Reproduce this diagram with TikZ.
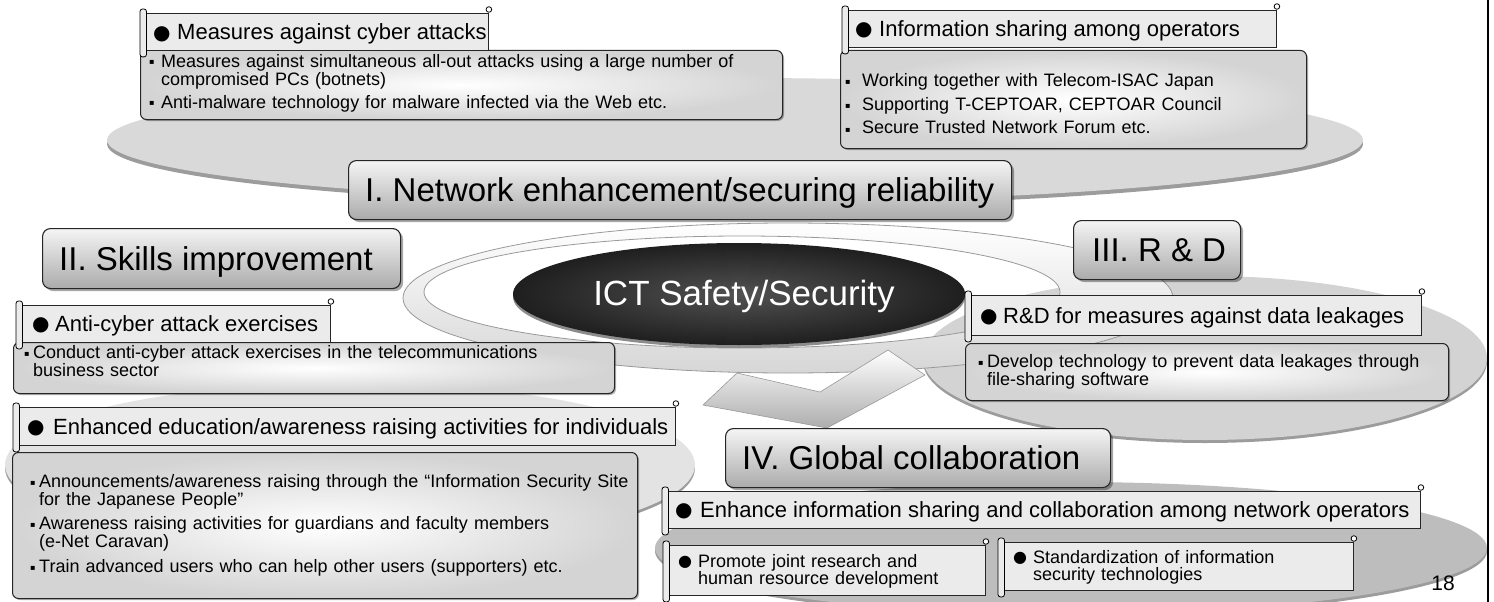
\documentclass[tikz,border=0pt]{standalone}
\usepackage{fontspec}
\setmainfont{Liberation Sans}
\newfontfamily\dvsans{DejaVu Sans}
\usetikzlibrary{shadows}

\definecolor{topdisc}{HTML}{D9D9D9}
\definecolor{rdisc}{HTML}{D3D3D3}
\definecolor{ldisc}{HTML}{E3E3E3}
\definecolor{gdisc}{HTML}{BDBDBD}
\definecolor{rim}{HTML}{9C9C9C}
\definecolor{headfill}{HTML}{EBEBEB}

% bullets and list items
\newlength\bulw
\newcommand\sqb{\raisebox{2pt}{\dvsans\fontsize{8}{8}\selectfont ▪}}
\newcommand\itm[1]{\noindent\hangindent=\bulw\hangafter=1\makebox[\bulw][l]{\sqb}#1\par}
\newcommand\hb[1][24pt]{\makebox[#1][l]{\raisebox{0.6pt}{\dvsans\fontsize{20}{20}\selectfont ●}}}
\newcommand\hbs{\makebox[20pt][l]{\raisebox{0.4pt}{\dvsans\fontsize{16}{16}\selectfont ●}}}

% rolled edge on the left and curl at the top right of a label
\newcommand\curl[1]{%
  \draw[line width=0.8pt, fill=headfill, rounded corners=2.5pt]
    ([xshift=-5pt,yshift=4pt]#1.north west) rectangle ([xshift=1.5pt,yshift=-6pt]#1.south west);
  \draw[line width=0.8pt, fill=white] ([yshift=3.5pt]#1.north east) circle (2.8pt);
}

\begin{document}
\begin{tikzpicture}[x=1pt,y=-1pt,
  titlebox/.style={draw=black!85, line width=1.1pt, rounded corners=8pt,
    top color=black!4, bottom color=black!33, inner sep=0pt,
    drop shadow={shadow xshift=2.5pt, shadow yshift=-2.5pt, opacity=0.35, fill=black}},
  bodybox/.style={draw=black!85, line width=1pt, rounded corners=6pt,
    inner color=white, outer color=black!17, inner sep=0pt,
    drop shadow={shadow xshift=1.5pt, shadow yshift=-1.5pt, opacity=0.3, fill=black}},
  headbox/.style={draw=black!85, line width=0.9pt, fill=headfill, inner sep=0pt},
  titletext/.style={font=\fontsize{33}{36}\selectfont, inner sep=0pt, anchor=base west},
  headtext/.style={font=\fontsize{22}{24}\selectfont, inner sep=0pt, anchor=base west},
  bodytext/.style={font=\fontsize{18}{18}\selectfont\setlength\parskip{5pt},
    inner sep=0pt, anchor=base west, text width=720pt, align=left},
]
\useasboundingbox (0,0) rectangle (1494,602);

% discs
\fill[rim] (735,144) ellipse [x radius=628pt, y radius=62pt];
\fill[topdisc] (735,140) ellipse [x radius=628pt, y radius=62pt];
\fill[rim] (350,468) ellipse [x radius=345pt, y radius=82pt];
\fill[ldisc] (350,465) ellipse [x radius=345pt, y radius=82pt];
\fill[rim] (1205,361) ellipse [x radius=282pt, y radius=82pt];
\fill[rdisc] (1205,358) ellipse [x radius=282pt, y radius=82pt];
\fill[rim] (1071,551) ellipse [x radius=416pt, y radius=66pt];
\fill[gdisc] (1071,548) ellipse [x radius=416pt, y radius=66pt];

% white ring around the core
\path[even odd rule, top color=white, bottom color=black!16, draw=black!40, line width=0.8pt]
  (788,298) ellipse [x radius=385pt, y radius=75pt]
  (742,292) ellipse [x radius=318pt, y radius=56pt];

% core
\fill[black!45] (739,297) ellipse [x radius=226pt, y radius=51pt];
\path[inner color=black!68, outer color=black!88] (739,294) ellipse [x radius=226pt, y radius=51pt];
\node[font=\fontsize{35}{35}\selectfont, text=white, anchor=base, inner sep=0pt] (ict) at (744,305) {ICT Safety/Security};

% arrow head
\path[draw=black!40, line width=0.6pt, top color=white, bottom color=black!32]
  (703,405) -- (737,373) -- (820,392) -- (888,350) -- (925,375) -- (827,428) -- cycle;

% I. cyber attacks
\node[bodybox, minimum width=642pt, minimum height=69pt, anchor=north west] (bodyA) at (140,50) {};
\node[headbox, minimum width=343pt, minimum height=37pt, anchor=north west] (headA) at (145,13) {};
\curl{headA}
\node[headtext] (headAtext) at (153,40) {\hb Measures against cyber attacks};
\node[bodytext] (bodyAtext) at (149,67) {\setlength\bulw{12pt}%
  \itm{Measures against simultaneous all-out attacks using a large number of\newline compromised PCs (botnets)}%
  \itm{Anti-malware technology for malware infected via the Web etc.}};

% I. information sharing
\node[bodybox, minimum width=466pt, minimum height=98pt, anchor=north west] (bodyB) at (840,50) {};
\node[headbox, minimum width=429pt, minimum height=37pt, anchor=north west] (headB) at (847,10) {};
\curl{headB}
\node[headtext] (headBtext) at (855,36.5) {\hb Information sharing among operators};
\node[bodytext] (bodyBtext) at (845,87) {\setlength\bulw{17pt}\setlength\parskip{5.5pt}%
  \itm{Working together with Telecom-ISAC Japan}%
  \itm{Supporting T-CEPTOAR, CEPTOAR Council}%
  \itm{Secure Trusted Network Forum etc.}};

% headings
\node[titlebox, minimum width=663pt, minimum height=59pt, anchor=north west] (netbox) at (348,160) {};
\node[titletext] (nettext) at (365,201) {I. Network enhancement/securing reliability};
\node[titlebox, minimum width=358pt, minimum height=60pt, anchor=north west] (skillbox) at (42,228) {};
\node[titletext] (skilltext) at (59,270) {II. Skills improvement};
\node[titlebox, minimum width=167pt, minimum height=59pt, anchor=north west] (rdbox) at (1073,220) {};
\node[titletext] (rdtext) at (1092,261) {III. R \& D};

% II. exercises
\node[bodybox, minimum width=601pt, minimum height=51pt, anchor=north west] (bodyC) at (13,342) {};
\node[headbox, minimum width=309pt, minimum height=37pt, anchor=north west] (headC) at (21,305) {};
\curl{headC}
\node[headtext] (headCtext) at (32,331) {\hb[23pt]Anti-cyber attack exercises};
\node[bodytext] (bodyCtext) at (24,358) {\setlength\bulw{9pt}%
  \itm{Conduct anti-cyber attack exercises in the telecommunications\newline business sector}};

% II. education
\node[bodybox, minimum width=625pt, minimum height=146pt, anchor=north west] (bodyD) at (12,452) {};
\node[headbox, minimum width=657pt, minimum height=38pt, anchor=north west] (headD) at (18,407) {};
\curl{headD}
\node[headtext] (headDtext) at (27,434) {\hb[26pt]Enhanced education/awareness raising activities for individuals};
\node[bodytext] (bodyDtext) at (30,487) {\setlength\bulw{9pt}\setlength\parskip{6.5pt}%
  \itm{Announcements/awareness raising through the “Information Security Site\newline for the Japanese People”}%
  \itm{Awareness raising activities for guardians and faculty members\newline (e-Net Caravan)}%
  \itm{Train advanced users who can help other users (supporters) etc.}};

% III. data leakages
\node[bodybox, minimum width=483pt, minimum height=57pt, anchor=north west] (bodyE) at (965,343) {};
\node[headbox, minimum width=451pt, minimum height=40pt, anchor=north west] (headE) at (970,295) {};
\curl{headE}
\node[headtext] (headEtext) at (980,323) {\hb[23pt]R\&D for measures against data leakages};
\node[bodytext] (bodyEtext) at (978,367) {\setlength\bulw{9pt}%
  \itm{Develop technology to prevent data leakages through\newline file-sharing software}};

% IV. global collaboration
\node[titlebox, minimum width=385pt, minimum height=59pt, anchor=north west] (glbox) at (725,428) {};
\node[titletext] (gltext) at (742,469) {IV. Global collaboration};

\node[headbox, minimum width=753pt, minimum height=37pt, anchor=north west] (headF) at (667,491) {};
\curl{headF}
\node[headtext] (headFtext) at (675,517.5) {\hb[25pt]Enhance information sharing and collaboration among network operators};

\node[headbox, minimum width=317pt, minimum height=50pt, anchor=north west] (headG) at (668,545) {};
\curl{headG}
\node[bodytext] (headGtext) at (678,567) {\setlength\baselineskip{17pt}\hangindent=20pt\hangafter=1\noindent\hbs Promote joint research and\newline human resource development\par};

\node[headbox, minimum width=350pt, minimum height=48pt, anchor=north west] (headH) at (1003,542) {};
\curl{headH}
\node[bodytext] (headHtext) at (1013,563) {\setlength\baselineskip{17pt}\hangindent=20pt\hangafter=1\noindent\hbs Standardization of information\newline security technologies\par};

% page number and frame edge
\node[font=\fontsize{21}{21}\selectfont, anchor=base, inner sep=0pt] (pageno) at (1443,590) {18};
\draw[line width=1.5pt] (1488,0) -- (1488,602);
\end{tikzpicture}
\end{document}
